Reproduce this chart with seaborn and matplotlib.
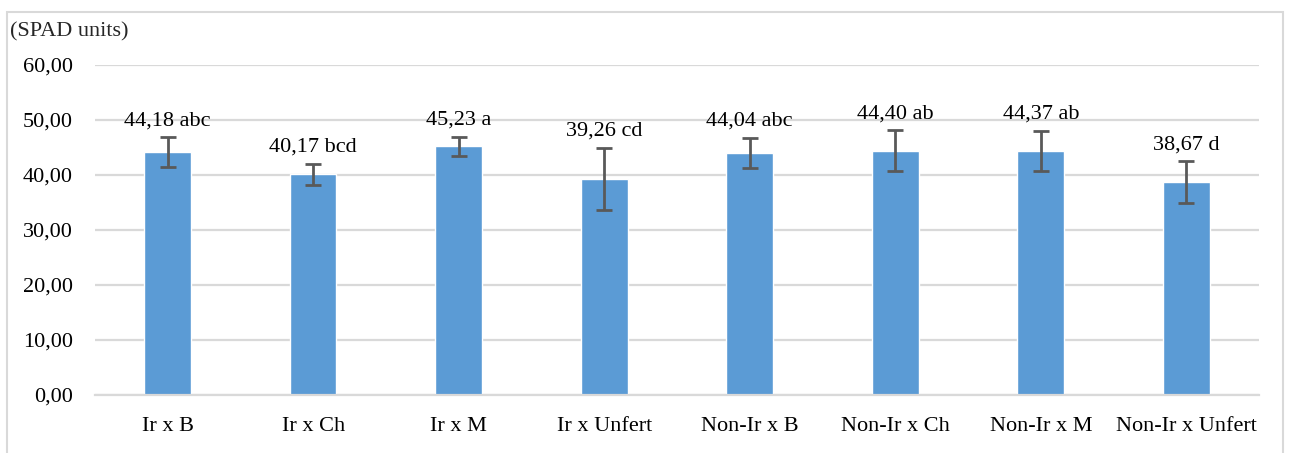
import numpy as np
import matplotlib
matplotlib.use("Agg")
import matplotlib.pyplot as plt
import seaborn as sns
from matplotlib.patches import Rectangle

categories = ["Ir x B", "Ir x Ch", "Ir x M", "Ir x Unfert",
              "Non-Ir x B", "Non-Ir x Ch", "Non-Ir x M", "Non-Ir x Unfert"]
means = [44.18, 40.17, 45.23, 39.26, 44.04, 44.40, 44.37, 38.67]
errors = [2.7, 1.9, 1.7, 5.7, 2.7, 3.7, 3.7, 3.8]
letters = ["abc", "bcd", "a", "cd", "abc", "ab", "ab", "d"]
yticks = [0, 10, 20, 30, 40, 50, 60]

sns.set_style("white")
plt.rcParams['font.family'] = ['Liberation Serif', 'DejaVu Serif']
fs = 16

fig = plt.figure(figsize=(12.9, 4.53), dpi=100)
ax = fig.add_axes([0.0736, 0.128, 0.9024, 0.7285])

sns.barplot(x=categories, y=means, color="#5b9bd5", width=0.32, saturation=1, ax=ax, zorder=2)
ax.errorbar(np.arange(len(categories)), means, yerr=errors, fmt="none",
            ecolor="#595959", elinewidth=2, capsize=6, capthick=2, zorder=3)

for i, (m, e, l) in enumerate(zip(means, errors, letters)):
    txt = f"{m:.2f}".replace(".", ",") + " " + l
    ax.annotate(txt, (i, m + e), xytext=(0, 5), textcoords="offset points",
                ha="center", va="bottom", fontsize=fs, color="black")

ax.set_ylim(0, 60)
ax.set_xlim(-0.5, len(categories) - 0.5)
ax.set_yticks(yticks)
ax.set_yticklabels([f"{v:.2f}".replace(".", ",") for v in yticks])
ax.yaxis.grid(True, color="#d9d9d9", linewidth=1.6, zorder=0)
ax.set_axisbelow(True)
for s in ["top", "right", "left"]:
    ax.spines[s].set_visible(False)
ax.spines["bottom"].set_color("#d9d9d9")
ax.spines["bottom"].set_linewidth(1.6)
ax.tick_params(axis="both", length=0, labelsize=fs, colors="black")
ax.tick_params(axis="y", pad=16)
ax.tick_params(axis="x", pad=16)

fig.text(0.008, 0.93, "(SPAD units)", fontsize=fs, ha="left", va="center")

fig.patches.append(Rectangle((7 / 1290, -0.1), 1276 / 1290, 1.1 - 12 / 453,
                             transform=fig.transFigure, fill=False,
                             edgecolor="#d9d9d9", linewidth=1.5))

fig.savefig("out.png", dpi=100)
